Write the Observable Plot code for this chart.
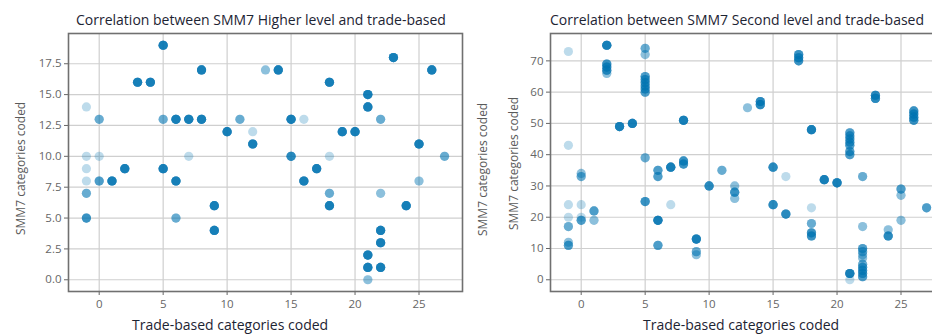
<!DOCTYPE html>
<html>
<head>
<meta charset="utf-8">
<script src="https://cdn.jsdelivr.net/npm/d3@7"></script>
<script src="https://cdn.jsdelivr.net/npm/@observablehq/plot@0.6"></script>
<style>
  html, body { margin: 0; padding: 0; background: #fff; overflow: hidden; }
  #wrap { position: relative; width: 932px; height: 334px; overflow: hidden; font-family: "Open Sans", sans-serif; }
  .abs { position: absolute; }
  .title { font-size: 14px; color: #1d2433; white-space: nowrap; }
  .xlabel { font-size: 14px; color: #1d2433; white-space: nowrap; }
  .ylabel { font-size: 12px; color: #5a5a5a; white-space: nowrap; transform-origin: 0 0; transform: rotate(-90deg); }
</style>
</head>
<body>
<div id="wrap"></div>
<script>
// ---- Data: Higher level panel ----
const leftX = [5, 3, 4, 8, 13, 14, 23, 26, 18, 21, 21, -1, 0, 5, 6, 7, 8, 11, 15, 16, 22, 10, 12, 19, 20, 12, 25,
  -1, 0, 7, 15, 18, 27, -1, 2, 5, 17, -1, 0, 1, 6, 16, 25, -1, 18, 22, 9, 18, 24, -1, 6, 9, 22, 22, 21, 21, 22, 21];
const leftY = [19, 16, 16, 17, 17, 17, 18, 17, 16, 15, 14, 14, 13, 13, 13, 13, 13, 13, 13, 13, 13, 12, 12, 12, 12, 11, 11,
  10, 10, 10, 10, 10, 10, 9, 9, 9, 9, 8, 8, 8, 8, 8, 8, 7, 7, 7, 6, 6, 6, 5, 5, 4, 4, 3, 2, 1, 1, 0];
const leftN = [8, 8, 8, 8, 2, 8, 8, 8, 8, 8, 8, 1, 3, 3, 8, 8, 8, 3, 8, 1, 3, 8, 1, 8, 8, 8, 8,
  1, 1, 1, 6, 1, 3, 1, 8, 8, 8, 1, 4, 8, 8, 8, 2, 3, 3, 2, 8, 8, 8, 5, 3, 8, 8, 8, 8, 8, 8, 2];

// ---- Data: Second level panel ----
const rightX = [-1, -1, -1, -1, -1, -1, -1, 0, 0, 0, 0, 0, 1, 1, 2, 2, 2, 2, 2, 3, 4,
  5, 5, 5, 5, 5, 5, 5, 5, 5, 5, 6, 6, 6, 6, 7, 7, 8, 8, 8, 9, 9, 9, 10, 11, 12, 12, 12, 13, 14, 14,
  15, 15, 16, 16, 17, 17, 17, 18, 18, 18, 18, 18, 19, 20,
  21, 21, 21, 21, 21, 21, 21, 21, 21,
  22, 22, 22, 22, 22, 22, 22, 22, 22, 22, 22, 23, 23, 24, 24, 25, 25, 25, 26, 26, 26, 26, 27];
const rightY = [73, 43, 24, 20, 17, 12, 11, 34, 33, 24, 20, 19, 22, 19, 75, 69, 68, 67, 66, 49, 50,
  74, 72, 65, 64, 63, 62, 61, 60, 39, 25, 35, 33, 19, 11, 36, 24, 51, 38, 37, 13, 9, 8, 30, 35, 30, 28, 26, 55, 57, 56,
  36, 24, 33, 21, 72, 71, 70, 48, 23, 18, 15, 14, 32, 31,
  47, 46, 45, 44, 43, 41, 40, 2, 0,
  33, 17, 10, 9, 8, 7, 5, 4, 3, 2, 1, 59, 58, 16, 14, 29, 27, 19, 54, 53, 52, 51, 23];
const rightN = [1, 1, 1, 1, 3, 2, 4, 2, 3, 1, 1, 4, 4, 2, 8, 5, 5, 5, 2, 8, 8,
  3, 2, 4, 4, 4, 4, 4, 4, 3, 5, 4, 4, 8, 4, 8, 1, 8, 5, 5, 8, 3, 2, 6, 3, 2, 5, 2, 2, 6, 6,
  6, 6, 1, 6, 5, 5, 5, 8, 1, 3, 5, 5, 8, 8,
  4, 4, 4, 4, 4, 4, 4, 8, 1,
  3, 2, 4, 3, 2, 2, 3, 4, 4, 4, 4, 6, 6, 2, 6, 4, 2, 2, 5, 5, 5, 5, 4];

const xTicks = [0, 5, 10, 15, 20, 25];
const leftYTicks = [0, 2.5, 5, 7.5, 10, 12.5, 15, 17.5];
const rightYTicks = [0, 10, 20, 30, 40, 50, 60, 70];

const titles = ["Correlation between SMM7 Higher level and trade-based", "Correlation between SMM7 Second level and trade-based"];
const xLabel = "Trade-based categories coded";
const yLabel = "SMM7 categories coded";

const BLUE = "#0173b2";

// expand overlapping records (each record is drawn semi-transparent, like the original)
function records(xs, ys, ns) {
  const out = [];
  xs.forEach((x, i) => { for (let k = 0; k < ns[i]; k++) out.push({x, y: ys[i]}); });
  return out;
}

function panel({data, yDomain, yTicks, yFormat, width, marginLeft, marginRight}) {
  return Plot.plot({
    width, height: 334,
    marginLeft, marginRight, marginTop: 33, marginBottom: 43,
    style: {fontFamily: "Open Sans, sans-serif", fontSize: "11.5px", color: "#666", background: "transparent", maxWidth: "none"},
    x: {domain: [-2.4, 28.4], ticks: xTicks, tickSize: 4, tickPadding: 4, label: null, tickFormat: d3.format("d")},
    y: {domain: yDomain, ticks: yTicks, tickSize: 4, tickPadding: 3, label: null, tickFormat: yFormat},
    marks: [
      Plot.gridX(xTicks, {stroke: "#cfcfcf", strokeOpacity: 1, strokeWidth: 1.2}),
      Plot.gridY(yTicks, {stroke: "#cfcfcf", strokeOpacity: 1, strokeWidth: 1.2}),
      Plot.dot(data, {x: "x", y: "y", r: 4.6, fill: BLUE, fillOpacity: 0.26, stroke: null}),
      Plot.frame({stroke: "#707070", strokeWidth: 1.6})
    ]
  });
}

const wrap = document.getElementById("wrap");

const left = panel({
  data: records(leftX, leftY, leftN),
  yDomain: [-0.95, 19.95], yTicks: leftYTicks, yFormat: d3.format(".1f"),
  width: 470, marginLeft: 68, marginRight: 8
});
left.classList.add("abs"); left.style.left = "0px"; left.style.top = "0px";
wrap.appendChild(left);

const right = panel({
  data: records(rightX, rightY, rightN),
  yDomain: [-3.75, 78.75], yTicks: rightYTicks, yFormat: d3.format("d"),
  width: 496, marginLeft: 90, marginRight: 12
});
right.classList.add("abs"); right.style.left = "460px"; right.style.top = "0px";
wrap.appendChild(right);

function addText(cls, text, left, top) {
  const d = document.createElement("div");
  d.className = "abs " + cls;
  d.textContent = text;
  d.style.left = left + "px";
  d.style.top = top + "px";
  wrap.appendChild(d);
  return d;
}
addText("title", titles[0], 76, 10);
addText("title", titles[1], 550, 10);
addText("xlabel", xLabel, 132, 315);
addText("xlabel", xLabel, 643, 315);
addText("ylabel", yLabel, 12, 235);
addText("ylabel", yLabel, 474, 236);
addText("ylabel", yLabel, 505, 230);
</script>
</body>
</html>
